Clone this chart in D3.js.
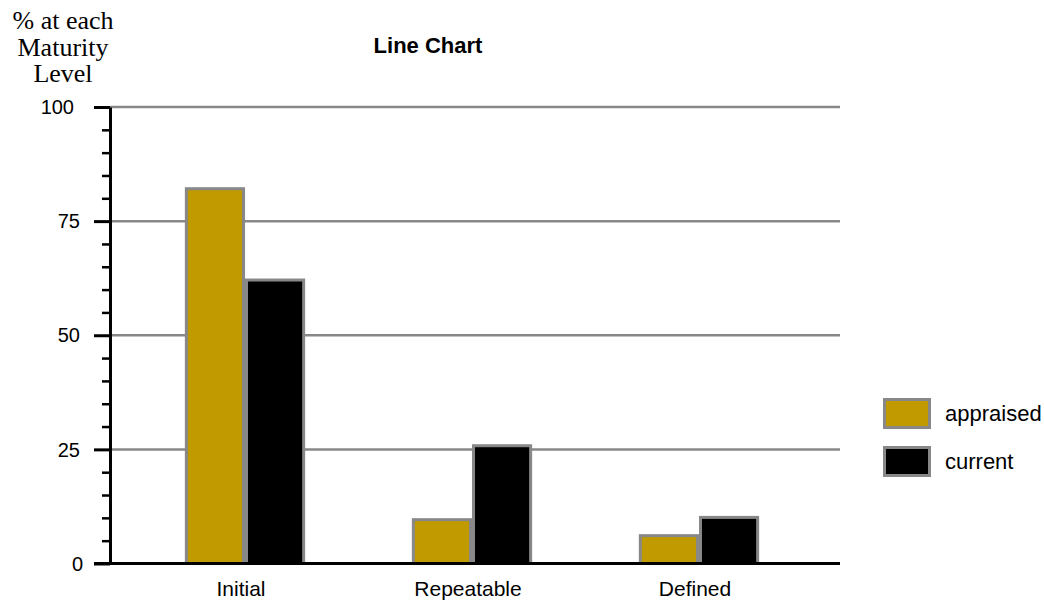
<!DOCTYPE html>
<html><head><meta charset="utf-8">
<script src="https://cdn.jsdelivr.net/npm/d3@7"></script>
<style>body{margin:0;background:#fff}svg{display:block}</style>
</head><body>
<svg id="c" width="1044" height="603"></svg>
<script>
const categories = ["Initial", "Repeatable", "Defined"];
const seriesNames = ["appraised", "current"];
const appraised = [82.1, 9.6, 6.1];
const current = [62.1, 25.8, 10.1];
const majorTicks = [0, 25, 50, 75, 100];
const minorTicks = [5,10,15,20,30,35,40,45,55,60,65,70,80,85,90,95];
const colors = ["#c19a00", "#000000"];

const svg = d3.select("#c");
const x0 = 110, x1 = 840;
const y = d3.scaleLinear().domain([0, 100]).range([563.5, 107]);
const x = d3.scaleBand().domain(categories).range([107, 837]).paddingInner(0.47).paddingOuter(0.343);
const xs = d3.scaleBand().domain(seriesNames).range([0, x.bandwidth()]);
const color = d3.scaleOrdinal().domain(seriesNames).range(colors);
const values = {appraised, current};

// gridlines
svg.append("g").selectAll("line").data(majorTicks.filter(d => d > 0)).join("line")
  .attr("x1", x0).attr("x2", x1).attr("y1", d => y(d)).attr("y2", d => y(d))
  .attr("stroke", "#888").attr("stroke-width", 2.5);

// bars
const g = svg.append("g");
categories.forEach((c, i) => {
  seriesNames.forEach(s => {
    const v = values[s][i];
    g.append("rect")
      .attr("x", x(c) + xs(s) + 1.5)
      .attr("width", xs.bandwidth() - 3)
      .attr("y", y(v))
      .attr("height", y(0) - y(v))
      .attr("fill", color(s)).attr("stroke", "#888").attr("stroke-width", 3);
  });
});

// y axis minor ticks
const minorAx = svg.append("g").attr("transform", `translate(${x0},0)`)
  .call(d3.axisLeft(y).tickValues(minorTicks).tickSize(8).tickFormat(""));
minorAx.select(".domain").remove();
minorAx.selectAll("line").attr("stroke", "#000").attr("stroke-width", 2.5);

const majorAx = svg.append("g").attr("transform", `translate(${x0},0)`)
  .call(d3.axisLeft(y).tickValues(majorTicks).tickSize(16).tickSizeOuter(0).tickFormat(""));
majorAx.select(".domain").attr("stroke", "#000").attr("stroke-width", 3);
majorAx.selectAll("line").attr("stroke", "#000").attr("stroke-width", 3);

// y labels
svg.append("g").selectAll("text").data(majorTicks).join("text")
  .attr("x", d => d === 100 ? 74 : (d === 0 ? 83 : 80))
  .attr("y", d => y(d)).attr("dy", "0.36em")
  .attr("text-anchor", "end")
  .attr("font-family", "Liberation Sans, Arial, sans-serif").attr("font-size", 20)
  .text(d => d);

// x axis
const xAx = svg.append("g").attr("transform", `translate(0,${y(0)})`)
  .call(d3.axisBottom(x).tickSize(0).tickPadding(18));
xAx.select(".domain").remove();
xAx.append("line").attr("x1", 94).attr("x2", x1).attr("y1", 0).attr("y2", 0)
  .attr("stroke", "#000").attr("stroke-width", 3);
xAx.selectAll(".tick text").attr("font-family", "Liberation Sans, Arial, sans-serif")
  .attr("font-size", 21).attr("fill", "#000").attr("dx", -4);

// title
svg.append("text").attr("x", 428).attr("y", 53).attr("text-anchor", "middle")
  .attr("font-family", "Liberation Sans, Arial, sans-serif").attr("font-size", 22)
  .attr("font-weight", "bold").text("Line Chart");

// y axis title
const yt = svg.append("text").attr("text-anchor", "middle")
  .attr("font-family", "Liberation Serif, Times New Roman, serif").attr("font-size", 26);
["% at each", "Maturity", "Level"].forEach((t, i) => {
  yt.append("tspan").attr("x", 63).attr("y", 29 + i * 26.5).text(t);
});

// legend
const lg = svg.append("g").selectAll("g").data(seriesNames).join("g")
  .attr("transform", (d, i) => `translate(884.5,${399.5 + i * 48})`);
lg.append("rect").attr("width", 45).attr("height", 28)
  .attr("fill", d => color(d)).attr("stroke", "#888").attr("stroke-width", 3);
lg.append("text").attr("x", 60.5).attr("y", 14).attr("dy", "0.36em")
  .attr("font-family", "Liberation Sans, Arial, sans-serif").attr("font-size", 22)
  .text(d => d);
</script>
</body></html>
